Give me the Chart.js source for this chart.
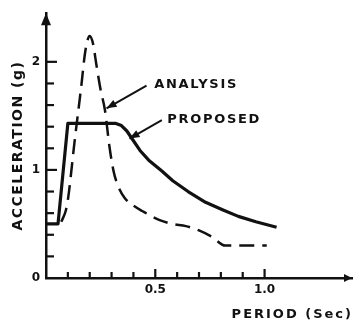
<!DOCTYPE html>
<html>
<head>
<meta charset="utf-8">
<script src="https://cdn.jsdelivr.net/npm/chart.js@4.4.0/dist/chart.umd.min.js"></script>
<style>
    html, body { margin: 0; padding: 0; background: #fff; }
    canvas { display: block; }
</style>
</head>
<body>
<canvas id="spectrumChart" width="357" height="322"></canvas>
<script>
// proposed design spectrum, period (sec) / acceleration (g)
const proposedPeriod = [0, 0.055, 0.10, 0.32, 0.345, 0.37, 0.39, 0.43, 0.47, 0.53, 0.58, 0.65, 0.73, 0.81, 0.88, 0.96, 1.055];
const proposedAccel = [0.5, 0.5, 1.43, 1.43, 1.41, 1.36, 1.30, 1.18, 1.09, 0.99, 0.90, 0.80, 0.70, 0.63, 0.57, 0.52, 0.47];

// analysis spectrum
const analysisPeriod = [0.07, 0.09, 0.10, 0.13, 0.16, 0.18, 0.20, 0.215, 0.23, 0.25, 0.27, 0.29, 0.31, 0.33, 0.36, 0.40, 0.44, 0.52, 0.58, 0.64, 0.70, 0.76, 0.82, 0.90, 1.01];
const analysisAccel = [0.52, 0.62, 0.72, 1.25, 1.75, 2.10, 2.24, 2.17, 1.98, 1.74, 1.55, 1.22, 0.98, 0.85, 0.74, 0.67, 0.62, 0.535, 0.50, 0.48, 0.44, 0.38, 0.30, 0.30, 0.30];

// axis marks
const xTickValues = [0.1, 0.2, 0.3, 0.4, 0.5, 0.6, 0.7, 0.8, 0.9, 1.0];
const xLabelValues = [0.5, 1.0];
const yTickValues = [0.2, 0.4, 0.6, 0.8, 1.0, 1.2, 1.4, 1.6, 1.8, 2.0];
const yLabelValues = [0, 1, 2];

const INK = "#111";
const FONT = "'DejaVu Sans', sans-serif";

// callouts: text anchor, arrow tail, arrow tip (data units)
const callouts = [
    { text: "ANALYSIS", at: [0.495, 1.79], from: [0.46, 1.78], to: [0.277, 1.57] },
    { text: "PROPOSED", at: [0.555, 1.465], from: [0.53, 1.46], to: [0.382, 1.29] },
];

function toPoints(xs, ys) {
    return xs.map((x, i) => ({ x: x, y: ys[i] }));
}

function near(v, list) {
    return list.some((l) => Math.abs(l - v) < 1e-6);
}

function seg(ctx, x1, y1, x2, y2) {
    ctx.beginPath();
    ctx.moveTo(x1, y1);
    ctx.lineTo(x2, y2);
    ctx.stroke();
}

function arrowHead(ctx, tipX, tipY, fromX, fromY, len, half) {
    const a = Math.atan2(tipY - fromY, tipX - fromX);
    ctx.beginPath();
    ctx.moveTo(tipX, tipY);
    ctx.lineTo(tipX - len * Math.cos(a) + half * Math.sin(a), tipY - len * Math.sin(a) - half * Math.cos(a));
    ctx.lineTo(tipX - len * Math.cos(a) - half * Math.sin(a), tipY - len * Math.sin(a) + half * Math.cos(a));
    ctx.closePath();
    ctx.fill();
}

const decorPlugin = {
    id: "decor",
    afterDraw(chart) {
        const ctx = chart.ctx;
        const area = chart.chartArea;
        const xs = chart.scales.x;
        const ys = chart.scales.y;

        ctx.save();
        ctx.strokeStyle = INK;
        ctx.fillStyle = INK;
        ctx.lineCap = "butt";

        // inward tick marks
        ctx.lineWidth = 2.2;
        for (const v of xTickValues) {
            const px = xs.getPixelForValue(v);
            const len = near(v, xLabelValues) ? 9 : 6;
            seg(ctx, px, area.bottom, px, area.bottom - len);
        }
        for (const v of yTickValues) {
            const py = ys.getPixelForValue(v);
            const len = near(v, yLabelValues) ? 11 : 8;
            seg(ctx, area.left, py, area.left + len, py);
        }

        // axis arrowheads
        arrowHead(ctx, area.left, area.top, area.left, area.top + 20, 12, 5);
        arrowHead(ctx, area.right, area.bottom, area.right - 20, area.bottom, 8, 4);

        // callouts
        ctx.font = "bold 13px " + FONT;
        ctx.letterSpacing = "1.7px";
        ctx.textBaseline = "middle";
        ctx.textAlign = "left";
        for (const c of callouts) {
            const fx = xs.getPixelForValue(c.from[0]);
            const fy = ys.getPixelForValue(c.from[1]);
            const tx = xs.getPixelForValue(c.to[0]);
            const ty = ys.getPixelForValue(c.to[1]);
            ctx.lineWidth = 2;
            seg(ctx, fx, fy, tx, ty);
            arrowHead(ctx, tx, ty, fx, fy, 10, 4);
            ctx.fillText(c.text, xs.getPixelForValue(c.at[0]), ys.getPixelForValue(c.at[1]));
        }

        // axis titles
        ctx.font = "bold 13px " + FONT;
        ctx.letterSpacing = "2px";
        const xTitle = "PERIOD (Sec)";
        const w = ctx.measureText(xTitle).width;
        ctx.fillText(xTitle, area.right - w + 1, 315);

        ctx.translate(18, (area.top + area.bottom) / 2);
        ctx.rotate(-Math.PI / 2);
        ctx.font = "bold 14px " + FONT;
        ctx.letterSpacing = "1.5px";
        ctx.textAlign = "center";
        ctx.fillText("ACCELERATION (g)", 0, 0);

        ctx.restore();
    },
};

const data = {
    datasets: [
        {
            label: "Proposed",
            data: toPoints(proposedPeriod, proposedAccel),
            borderColor: INK,
            borderWidth: 3.2,
            pointRadius: 0,
            tension: 0,
            borderJoinStyle: "round",
        },
        {
            label: "Analysis",
            data: toPoints(analysisPeriod, analysisAccel),
            borderColor: INK,
            borderWidth: 2.5,
            borderDash: [15, 8],
            pointRadius: 0,
            cubicInterpolationMode: "monotone",
        },
    ],
};

const config = {
    type: "line",
    data: data,
    plugins: [decorPlugin],
    options: {
        responsive: false,
        animation: false,
        events: [],
        layout: {
            padding: { top: 12, right: 3, left: 0, bottom: 0 },
        },
        scales: {
            x: {
                type: "linear",
                min: 0,
                max: 1.4,
                afterFit: (scale) => { scale.height = 44; },
                grid: { display: false, drawTicks: false },
                border: { display: true, color: INK, width: 2.5 },
                ticks: {
                    stepSize: 0.1,
                    autoSkip: false,
                    maxRotation: 0,
                    padding: 5,
                    color: INK,
                    font: { family: FONT, size: 12, weight: "bold" },
                    callback: (v) => (near(v, xLabelValues) ? v.toFixed(1) : ""),
                },
            },
            y: {
                type: "linear",
                min: 0,
                max: 2.45,
                afterFit: (scale) => { scale.width = 46; },
                grid: { display: false, drawTicks: false },
                border: { display: true, color: INK, width: 2.5 },
                ticks: {
                    stepSize: 1,
                    padding: 6,
                    color: INK,
                    font: { family: FONT, size: 12, weight: "bold" },
                    callback: (v) => (near(v, yLabelValues) ? String(v) : ""),
                },
            },
        },
        plugins: {
            legend: { display: false },
            tooltip: { enabled: false },
        },
    },
};

new Chart(document.getElementById("spectrumChart"), config);
</script>
</body>
</html>
